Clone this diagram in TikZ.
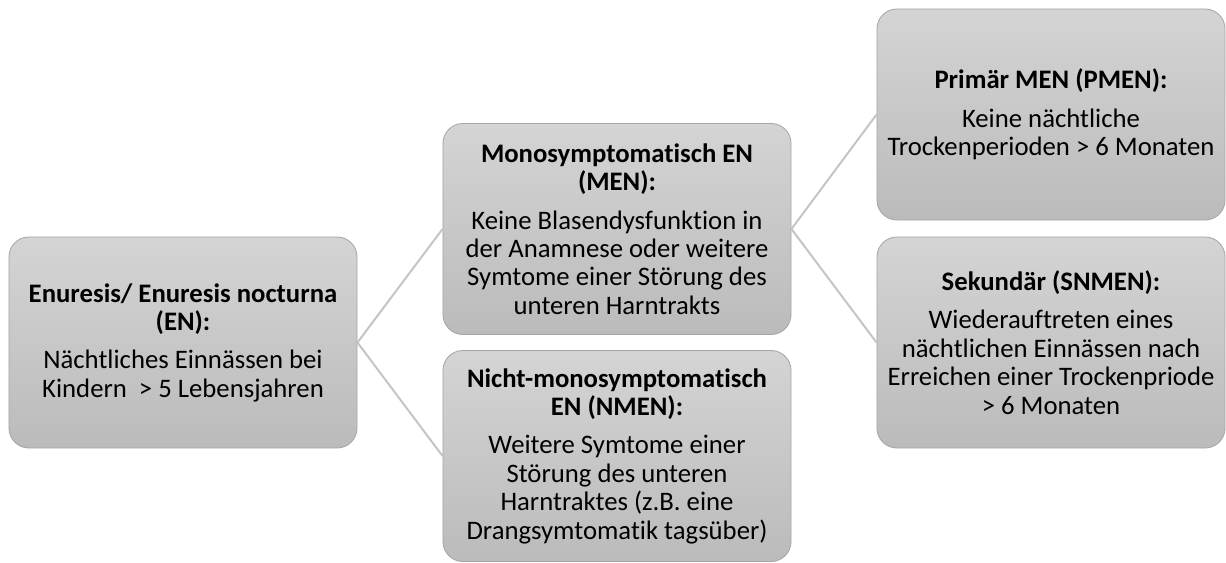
\documentclass[tikz,border=0pt]{standalone}
\usepackage{fontspec}
\setmainfont{Carlito}[Ligatures = NoCommon]
\definecolor{boxtop}{HTML}{D4D4D4}
\definecolor{boxbottom}{HTML}{BBBBBB}
\definecolor{boxline}{HTML}{A6A6A6}
\definecolor{linkgray}{HTML}{C4C4C4}
\begin{document}
\begin{tikzpicture}[x = 0.025cm, y = -0.025cm,
        card/.style = {draw = boxline, line width = 0.6pt, rounded corners = 0.5cm, top color = boxtop, bottom color = boxbottom, minimum width = 8.7cm, minimum height = 5.275cm, align = center, inner sep = 2pt, font = \fontsize{19pt}{20.2pt}\selectfont},
        link/.style = {draw = linkgray, line width = 1.4pt}]
        \useasboundingbox (0, 0) rectangle (1226, 562);
        \node[card] (root) at (183, 342.5) {\textbf{Enuresis/ Enuresis nocturna}\\ \textbf{(EN):}\\[7pt] Nächtliches Einnässen bei\\ Kindern \ > 5 Lebensjahren};
        \node[card] (men) at (617, 229) {\textbf{Monosymptomatisch EN}\\ \textbf{(MEN):}\\[7pt] Keine Blasendysfunktion in\\ der Anamnese oder weitere\\ Symtome einer Störung des\\ unteren Harntrakts};
        \node[card] (nmen) at (617, 456) {\textbf{Nicht-monosymptomatisch}\\ \textbf{EN (NMEN):}\\[7pt] Weitere Symtome einer\\ Störung des unteren\\ Harntraktes (z.B. eine\\ Drangsymtomatik tagsüber)};
        \node[card] (pmen) at (1051, 114.5) {\textbf{Primär MEN (PMEN):}\\[7pt] Keine nächtliche\\ Trockenperioden > 6 Monaten};
        \node[card] (snmen) at (1051, 342.5) {\textbf{Sekundär (SNMEN):}\\[7pt] Wiederauftreten eines\\ nächtlichen Einnässen nach\\ Erreichen einer Trockenpriode\\ > 6 Monaten};
        \draw[link] (root.east) -- (men.west);
        \draw[link] (root.east) -- (nmen.west);
        \draw[link] (men.east) -- (pmen.west);
        \draw[link] (men.east) -- (snmen.west);
    \end{tikzpicture}
\end{document}
